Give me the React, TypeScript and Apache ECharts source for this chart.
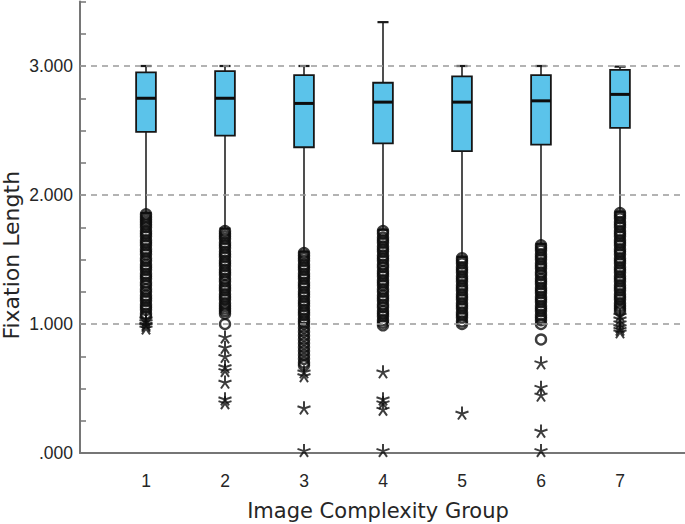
import React, { useEffect, useRef } from "react";
import * as echarts from "echarts";

const categories = ["1", "2", "3", "4", "5", "6", "7"];
const whiskerLow = [1.86, 1.74, 1.56, 1.73, 1.52, 1.62, 1.87];
const quartile1 = [2.49, 2.46, 2.37, 2.4, 2.34, 2.39, 2.52];
const medians = [2.75, 2.75, 2.71, 2.72, 2.72, 2.73, 2.78];
const quartile3 = [2.95, 2.96, 2.93, 2.87, 2.92, 2.93, 2.97];
const whiskerHigh = [3.0, 3.0, 3.0, 3.34, 3.0, 3.0, 2.995];

const circleOutliers: number[][] = [
  [1.85, 1.83, 1.81, 1.79, 1.77, 1.75, 1.72, 1.7, 1.68, 1.65, 1.63, 1.61, 1.58, 1.56, 1.54, 1.51, 1.49, 1.46, 1.44, 1.42, 1.39, 1.37, 1.35, 1.32, 1.3, 1.27, 1.25, 1.22, 1.2, 1.18, 1.15, 1.13, 1.11, 1.08, 1.06],
  [1.72, 1.7, 1.68, 1.66, 1.63, 1.61, 1.59, 1.56, 1.54, 1.52, 1.49, 1.47, 1.45, 1.42, 1.4, 1.38, 1.35, 1.33, 1.3, 1.28, 1.26, 1.23, 1.21, 1.19, 1.16, 1.14, 1.12, 1.1, 1.08, 1.0],
  [1.55, 1.53, 1.51, 1.49, 1.46, 1.44, 1.42, 1.39, 1.37, 1.35, 1.32, 1.3, 1.28, 1.25, 1.23, 1.21, 1.18, 1.16, 1.14, 1.11, 1.09, 1.07, 1.04, 1.02, 1.0, 0.97, 0.94, 0.91, 0.88, 0.85, 0.82, 0.79, 0.76, 0.73, 0.7, 0.68],
  [1.72, 1.7, 1.67, 1.65, 1.63, 1.6, 1.58, 1.56, 1.53, 1.51, 1.49, 1.46, 1.44, 1.41, 1.39, 1.37, 1.34, 1.32, 1.3, 1.27, 1.25, 1.22, 1.2, 1.18, 1.15, 1.13, 1.1, 1.08, 1.06, 1.03, 1.01, 0.99],
  [1.51, 1.49, 1.47, 1.44, 1.42, 1.4, 1.37, 1.35, 1.33, 1.3, 1.28, 1.26, 1.23, 1.21, 1.19, 1.16, 1.14, 1.12, 1.09, 1.07, 1.05, 1.02, 1.0],
  [1.61, 1.59, 1.57, 1.54, 1.52, 1.5, 1.47, 1.45, 1.43, 1.4, 1.38, 1.35, 1.33, 1.31, 1.28, 1.26, 1.24, 1.21, 1.19, 1.17, 1.14, 1.12, 1.1, 1.07, 1.05, 1.03, 1.0, 0.88],
  [1.86, 1.84, 1.82, 1.79, 1.77, 1.75, 1.72, 1.7, 1.68, 1.65, 1.63, 1.61, 1.58, 1.56, 1.54, 1.51, 1.49, 1.47, 1.44, 1.42, 1.4, 1.37, 1.35, 1.33, 1.3, 1.28, 1.26, 1.23, 1.21, 1.19, 1.16, 1.14, 1.12, 1.1],
];

const extremeOutliers: number[][] = [
  [1.04, 1.02, 1.0, 0.99, 0.97],
  [0.9, 0.82, 0.75, 0.67, 0.64, 0.55, 0.42, 0.39],
  [0.63, 0.6, 0.35, 0.02],
  [0.63, 0.42, 0.39, 0.34, 0.02],
  [0.31],
  [0.7, 0.51, 0.45, 0.17, 0.02],
  [1.07, 1.04, 1.01, 0.98, 0.96, 0.94],
];

const yTickLabels = [".000", "1.000", "2.000", "3.000"];
const gridLineValues = [1, 2, 3];

const xTitle = "Image Complexity Group";
const yTitle = "Fixation Length";

const starPath =
  "path://M0,-10L0,0M0,0L9.51,-3.09M0,0L5.88,8.09M0,0L-5.88,8.09M0,0L-9.51,-3.09";

export default function App() {
  const ref = useRef<HTMLDivElement>(null);

  useEffect(() => {
    if (!ref.current) return;
    const chart = echarts.init(ref.current, undefined, { renderer: "svg" });

    const boxData = categories.map((_, i) => [
      i,
      whiskerLow[i],
      quartile1[i],
      medians[i],
      quartile3[i],
      whiskerHigh[i],
    ]);
    const circleData = circleOutliers.flatMap((vals, i) => vals.map((v) => [i, v]));
    const starData = extremeOutliers.flatMap((vals, i) => vals.map((v) => [i, v]));

    const axisGray = "#767676";
    const textColor = "#262626";

    chart.setOption({
      animation: false,
      grid: [
        { left: 80, right: 0, top: 1.5, bottom: 71, outerBoundsMode: "none", containLabel: false },
        { left: 106.5, right: 25.5, top: 1.5, bottom: 71, outerBoundsMode: "none", containLabel: false },
      ],
      xAxis: [
        {
          type: "value",
          gridIndex: 0,
          min: 0,
          max: 1,
          axisLine: { show: true, lineStyle: { color: axisGray, width: 2 } },
          axisTick: { show: false },
          axisLabel: { show: false },
          splitLine: { show: false },
        },
        {
          type: "category",
          gridIndex: 1,
          data: categories,
          axisLine: { show: false },
          axisTick: { show: false },
          axisLabel: {
            color: textColor,
            fontSize: 17.5,
            fontFamily: "Liberation Sans",
            margin: 19,
          },
          name: xTitle,
          nameLocation: "middle",
          nameGap: 47,
          nameMoveOverlap: false,
          nameTextStyle: {
            color: textColor,
            fontSize: 21,
            fontFamily: "DejaVu Sans",
            padding: [0, 10, 0, 0],
          },
        },
      ],
      yAxis: [
        {
          type: "value",
          gridIndex: 0,
          min: 0,
          max: 3.5,
          interval: 0.25,
          axisLine: { show: true, lineStyle: { color: axisGray, width: 2 } },
          axisTick: {
            show: true,
            inside: true,
            length: 6,
            lineStyle: { color: axisGray, width: 1.5 },
          },
          axisLabel: {
            color: textColor,
            fontSize: 17.5,
            fontFamily: "Liberation Sans",
            margin: 7,
            formatter: (v: number) => {
              const r = Math.round(v);
              return Math.abs(v - r) < 1e-6 && yTickLabels[r] !== undefined ? yTickLabels[r] : "";
            },
          },
          splitLine: { show: false },
          name: yTitle,
          nameLocation: "middle",
          nameGap: 58,
          nameMoveOverlap: false,
          nameRotate: 90,
          nameTextStyle: {
            color: textColor,
            fontSize: 22,
            fontFamily: "DejaVu Sans",
            padding: [0, 56, 0, 0],
          },
        },
        {
          type: "value",
          gridIndex: 1,
          min: 0,
          max: 3.5,
          show: false,
        },
      ],
      series: [
        {
          type: "line",
          xAxisIndex: 0,
          yAxisIndex: 0,
          data: [],
          z: 1,
          markLine: {
            silent: true,
            symbol: ["none", "none"],
            label: { show: false },
            lineStyle: { type: [6, 5], color: "#9a9a9a", width: 1.5 },
            data: gridLineValues.map((v) => ({ yAxis: v })),
          },
        },
        {
          type: "custom",
          xAxisIndex: 1,
          yAxisIndex: 1,
          z: 3,
          data: boxData,
          encode: { x: 0, y: [1, 2, 3, 4, 5] },
          renderItem: (params: any, api: any) => {
            const c = api.value(0);
            const lo = api.coord([c, api.value(1)]);
            const q1p = api.coord([c, api.value(2)]);
            const mp = api.coord([c, api.value(3)]);
            const q3p = api.coord([c, api.value(4)]);
            const hi = api.coord([c, api.value(5)]);
            const band = api.size([1, 0])[0];
            const bw = band * 0.25;
            const cw = band * 0.14;
            const x = lo[0];
            const wStyle = { stroke: "#222", lineWidth: 1.6 };
            const capStyle = { stroke: "#1a1a1a", lineWidth: 2.2 };
            return {
              type: "group",
              children: [
                { type: "line", shape: { x1: x, y1: hi[1], x2: x, y2: q3p[1] }, style: wStyle },
                { type: "line", shape: { x1: x, y1: q1p[1], x2: x, y2: lo[1] }, style: wStyle },
                { type: "line", shape: { x1: x - cw / 2, y1: hi[1], x2: x + cw / 2, y2: hi[1] }, style: capStyle },
                { type: "line", shape: { x1: x - cw / 2, y1: lo[1], x2: x + cw / 2, y2: lo[1] }, style: capStyle },
                {
                  type: "rect",
                  shape: { x: x - bw / 2, y: q3p[1], width: bw, height: q1p[1] - q3p[1] },
                  style: { fill: "#5BC3EA", stroke: "#161616", lineWidth: 1.8 },
                },
                {
                  type: "line",
                  shape: { x1: x - bw / 2, y1: mp[1], x2: x + bw / 2, y2: mp[1] },
                  style: { stroke: "#0d0d0d", lineWidth: 3 },
                },
              ],
            };
          },
        },
        {
          type: "scatter",
          xAxisIndex: 1,
          yAxisIndex: 1,
          z: 4,
          symbol: "circle",
          symbolSize: 10,
          data: circleData,
          itemStyle: { color: "rgba(0,0,0,0)", borderColor: "#0d0d0d", borderWidth: 2.4 },
        },
        {
          type: "scatter",
          xAxisIndex: 1,
          yAxisIndex: 1,
          z: 5,
          symbol: starPath,
          symbolSize: [13, 13],
          data: starData,
          itemStyle: { color: "rgba(0,0,0,0)", borderColor: "#0d0d0d", borderWidth: 2 },
        },
      ],
    });

    return () => chart.dispose();
  }, []);

  return (
    <div
      ref={ref}
      style={{ position: "fixed", left: 0, top: 0, width: 685, height: 524, background: "#fff" }}
    />
  );
}
